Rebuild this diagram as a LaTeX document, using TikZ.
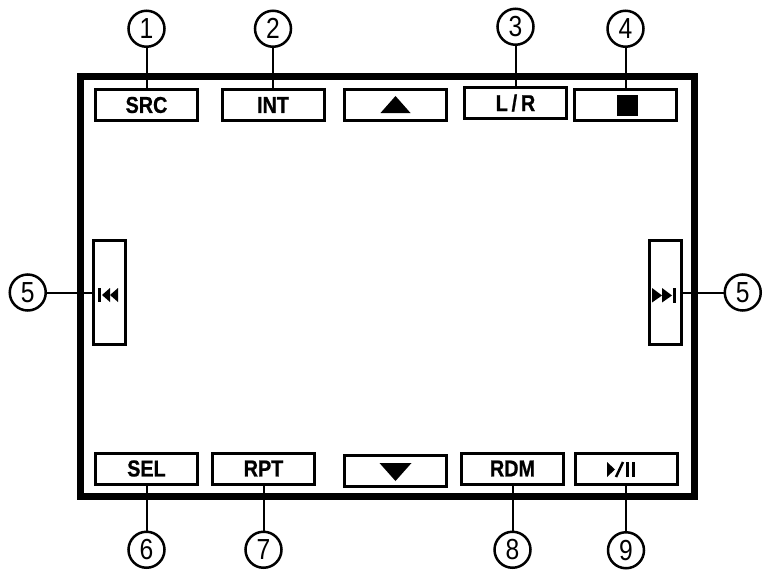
\documentclass[tikz,border=0pt]{standalone}
\usepackage{fontspec}
\usepackage{tikz}
\usetikzlibrary{calc,positioning}
\newfontfamily\btnfont{Liberation Sans}[FakeStretch=0.86, BoldFeatures={FakeBold=0.8}]
\newfontfamily\numfont{Liberation Sans}[FakeStretch=0.85]
\tikzset{
	btn/.style={draw, line width=3pt, minimum width=102pt, minimum height=31pt, inner sep=0pt, font=\btnfont\bfseries\fontsize{23}{23}\selectfont},
	sidebtn/.style={draw, line width=3pt, minimum width=32pt, minimum height=104pt, inner sep=0pt},
	num/.style={draw, circle, line width=2.5pt, minimum size=36pt, inner sep=0pt, font=\numfont\fontsize{29}{29}\selectfont},
	lead/.style={line width=2pt}
}
\begin{document}
\begin{tikzpicture}[x=1pt,y=-1pt] %
		\useasboundingbox (0,0) rectangle (771,573) ;
		% Frame
		\draw[line width=7pt] (80.5,76.5) rectangle (694.5,496) ;
		% Top row
		\node[btn] (Src) at (146.5,105) {SRC} ;
		\node[btn] (Int) at (273,105) {INT} ;
		\node[btn] (Up) at (395.5,105) {} ;
		\node[btn] (LR) at (515.5,103) {L\,/\,R} ;
		\node[btn] (Stop) at (625.5,105) {} ;
		\fill ($(Up)+(-15,8)$) -- ($(Up)+(15,8)$) -- ($(Up)+(0,-9)$) -- cycle ;
		\fill ($(Stop)+(-8.5,-10.5)$) rectangle ($(Stop)+(12.5,11)$) ;
		% Bottom row
		\node[btn] (Sel) at (146.5,468.5) {SEL} ;
		\node[btn] (Rpt) at (263.5,468.5) {RPT} ;
		\node[btn] (Down) at (395.5,470.5) {} ;
		\node[btn] (Rdm) at (512.5,468.5) {RDM} ;
		\node[btn] (PlayPause) at (626,469) {} ;
		\fill ($(Down)+(-16,-7.5)$) -- ($(Down)+(16,-7.5)$) -- ($(Down)+(0,10.5)$) -- cycle ;
		\fill ($(PlayPause)+(-19,-7)$) -- ($(PlayPause)+(-11,0.5)$) -- ($(PlayPause)+(-19,8)$) -- cycle ;
		\draw[line width=2.5pt] ($(PlayPause)+(-10,8)$) -- ($(PlayPause)+(-3,-7)$) ;
		\draw[line width=2.5pt] ($(PlayPause)+(1.5,-7)$) -- ($(PlayPause)+(1.5,8)$) ;
		\draw[line width=2.5pt] ($(PlayPause)+(7.5,-7)$) -- ($(PlayPause)+(7.5,8)$) ;
		% Sides
		\node[sidebtn] (PrevL) at (109.5,292.5) {} ;
		\node[sidebtn] (NextR) at (665,292.5) {} ;
		\fill ($(PrevL)+(-11.5,-4.5)$) rectangle ($(PrevL)+(-9,9.5)$) ;
		\fill ($(PrevL)+(-7.5,2.5)$) -- ($(PrevL)+(0.5,-4.5)$) -- ($(PrevL)+(0.5,9.5)$) -- cycle ;
		\fill ($(PrevL)+(0.5,2.5)$) -- ($(PrevL)+(8.5,-4.5)$) -- ($(PrevL)+(8.5,9.5)$) -- cycle ;
		\fill ($(NextR)+(-13,-4.5)$) -- ($(NextR)+(-3,3)$) -- ($(NextR)+(-13,10)$) -- cycle ;
		\fill ($(NextR)+(-3,-4.5)$) -- ($(NextR)+(7,3)$) -- ($(NextR)+(-3,10)$) -- cycle ;
		\fill ($(NextR)+(8,-4.5)$) rectangle ($(NextR)+(10.5,10)$) ;
		% Callouts
		\node[num, above=40pt of Src] (One) {1} ;
		\node[num, above=40pt of Int] (Two) {2} ;
		\node[num, above=40pt of LR] (Three) {3} ;
		\node[num, above=40pt of Stop] (Four) {4} ;
		\node[num, left=45pt of PrevL] (FiveL) {5} ;
		\node[num, right=41pt of NextR] (FiveR) {5} ;
		\node[num, below=45pt of Sel] (Six) {6} ;
		\node[num, below=45pt of Rpt] (Seven) {7} ;
		\node[num, below=45pt of Rdm] (Eight) {8} ;
		\node[num, below=45pt of PlayPause] (Nine) {9} ;
		\draw[lead] (One) -- (Src) ;
		\draw[lead] (Two) -- (Int) ;
		\draw[lead] (Three) -- (LR) ;
		\draw[lead] (Four) -- (Stop) ;
		\draw[lead] (FiveL) -- (PrevL.west) ;
		\draw[lead] (NextR.east) -- (FiveR) ;
		\draw[lead] (Six) -- (Sel) ;
		\draw[lead] (Seven) -- (Rpt) ;
		\draw[lead] (Eight) -- (Rdm) ;
		\draw[lead] (Nine) -- (PlayPause) ;
	\end{tikzpicture}
\end{document}
